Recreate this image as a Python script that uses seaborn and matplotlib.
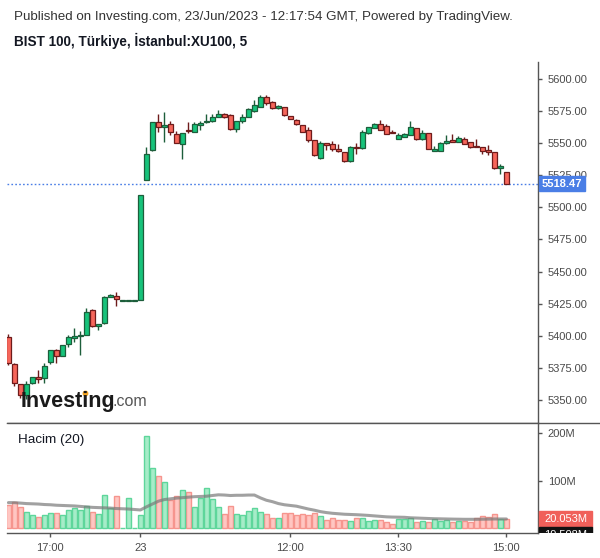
import numpy as np
import pandas as pd
import matplotlib
matplotlib.use("Agg")
import matplotlib.pyplot as plt
import matplotlib.transforms as mtransforms
from matplotlib.patches import Rectangle
from matplotlib.lines import Line2D
import matplotlib.colors as mcolors
import seaborn as sns

sns.set_theme(style="white")
plt.rcParams["font.family"] = ["Liberation Sans", "DejaVu Sans"]

# ---------------- data ----------------
session_22 = pd.date_range("2023-06-22 16:25", "2023-06-22 18:10", freq="5min")
session_23 = pd.date_range("2023-06-23 09:55", "2023-06-23 15:00", freq="5min")
times = list(session_22) + list(session_23)

opens = [5398.8, 5377.8, 5362.2, 5353.9, 5363.0, 5367.9, 5366.9, 5379.6, 5388.9, 5384.5,
         5393.4, 5398.5, 5399.6, 5400.4, 5419.9, 5407.4, 5409.7, 5430.2, 5430.8, 5427.6,
         5427.6, 5427.6,
         5428.0, 5521.0, 5544.5, 5566.3, 5562.4, 5565.0, 5557.2, 5549.1, 5560.0, 5559.0,
         5564.4, 5566.3, 5567.5, 5570.6, 5572.7, 5572.0, 5560.8, 5567.5, 5570.2, 5575.3,
         5578.4, 5585.7, 5581.8, 5577.0, 5578.0, 5571.0, 5567.8, 5564.0, 5560.0, 5552.3,
         5538.5, 5550.0, 5549.1, 5545.2, 5542.9, 5535.9, 5546.8, 5546.5, 5558.2, 5562.1,
         5565.0, 5563.4, 5558.2, 5553.5, 5555.0, 5556.6, 5561.6, 5553.5, 5557.7, 5544.2,
         5544.2, 5549.9, 5552.3, 5551.2, 5553.0, 5550.9, 5547.5, 5547.0, 5544.0, 5543.1,
         5530.9, 5527.6]
highs = [5401.4, 5378.5, 5362.5, 5364.6, 5368.0, 5373.1, 5378.6, 5389.0, 5389.5, 5393.0,
         5400.6, 5405.8, 5404.0, 5421.4, 5420.5, 5409.5, 5431.0, 5432.8, 5433.9, 5427.6,
         5427.6, 5427.6,
         5510.0, 5547.3, 5566.8, 5573.0, 5574.3, 5567.0, 5559.5, 5558.3, 5566.3, 5566.3,
         5567.5, 5572.7, 5572.7, 5575.9, 5573.5, 5573.0, 5567.2, 5572.5, 5577.4, 5583.6,
         5587.5, 5587.5, 5583.0, 5580.0, 5578.5, 5571.5, 5569.0, 5564.5, 5562.6, 5552.8,
         5551.7, 5550.5, 5551.7, 5549.1, 5543.3, 5547.9, 5550.2, 5560.0, 5562.8, 5566.0,
         5568.0, 5564.8, 5560.3, 5558.2, 5557.6, 5567.3, 5562.0, 5560.3, 5558.0, 5547.8,
         5551.0, 5556.4, 5557.2, 5555.8, 5555.0, 5551.2, 5553.3, 5547.3, 5548.6, 5543.5,
         5533.8, 5527.8]
lows = [5377.5, 5361.0, 5351.5, 5351.0, 5362.5, 5363.5, 5363.0, 5377.8, 5378.6, 5384.0,
        5391.0, 5395.4, 5385.3, 5400.4, 5407.0, 5404.3, 5409.5, 5430.0, 5423.0, 5427.6,
        5427.6, 5427.6,
        5427.6, 5521.0, 5544.0, 5559.0, 5551.2, 5556.0, 5550.0, 5537.9, 5557.7, 5558.8,
        5560.3, 5566.0, 5566.6, 5570.0, 5569.4, 5560.5, 5559.0, 5566.0, 5570.0, 5574.6,
        5578.0, 5579.8, 5576.5, 5576.5, 5571.3, 5568.5, 5564.5, 5558.5, 5551.2, 5540.3,
        5537.7, 5544.7, 5544.2, 5543.5, 5535.5, 5535.5, 5541.8, 5545.7, 5557.4, 5561.8,
        5560.2, 5557.0, 5557.6, 5553.3, 5554.8, 5556.4, 5552.8, 5552.3, 5545.4, 5544.0,
        5544.0, 5549.6, 5551.0, 5551.0, 5549.4, 5546.0, 5547.0, 5541.7, 5541.0, 5530.0,
        5526.0, 5518.3]
closes = [5378.6, 5363.0, 5353.9, 5362.2, 5367.7, 5366.1, 5376.2, 5388.7, 5384.0, 5392.6,
          5398.8, 5399.6, 5400.4, 5418.3, 5407.4, 5409.0, 5430.0, 5431.6, 5428.4, 5427.6,
          5427.6, 5427.6,
          5509.7, 5541.6, 5566.3, 5562.4, 5564.0, 5559.0, 5550.4, 5558.0, 5559.7, 5565.2,
          5566.0, 5567.0, 5570.2, 5572.7, 5570.6, 5560.8, 5567.0, 5570.2, 5576.4, 5579.8,
          5585.7, 5581.5, 5577.0, 5579.0, 5572.2, 5569.0, 5564.7, 5559.0, 5552.7, 5541.0,
          5550.2, 5548.4, 5545.7, 5543.7, 5536.4, 5546.8, 5545.9, 5558.5, 5562.6, 5565.0,
          5560.5, 5557.4, 5557.9, 5556.6, 5557.4, 5562.6, 5553.0, 5558.0, 5545.7, 5545.2,
          5550.2, 5551.7, 5551.2, 5553.8, 5549.6, 5547.3, 5547.1, 5543.7, 5543.8, 5530.9,
          5532.0, 5518.47]
volumes_m = [49.0, 55.3, 44.0, 33.5, 27.2, 23.0, 27.2, 31.4, 31.4, 27.2,
             37.8, 42.6, 37.8, 46.2, 33.5, 29.3, 69.4, 42.6, 67.3, 0.0,
             63.0, 0.0, 27.2, 194.5, 126.4, 109.5, 96.8, 58.9, 67.3, 80.0,
             75.7, 44.0, 63.0, 84.2, 61.0, 44.0, 29.3, 46.2, 29.3, 27.2,
             35.6, 42.0, 33.5, 29.3, 20.9, 20.9, 31.4, 31.4, 27.2, 29.3,
             27.2, 31.4, 25.1, 16.7, 20.9, 16.7, 16.7, 14.6, 20.9, 20.9,
             14.6, 16.7, 16.7, 12.4, 8.2, 18.8, 18.8, 20.9, 12.4, 14.6,
             12.4, 18.8, 14.6, 16.7, 12.4, 14.6, 14.6, 12.4, 20.9, 25.1,
             23.0, 29.3, 18.8, 20.053]
volume_ma_m = [54.0, 54.0, 53.0, 52.0, 51.5, 51.0, 50.0, 49.5, 48.5, 48.0,
               47.5, 47.0, 46.0, 45.0, 44.0, 43.5, 43.0, 42.5, 41.5, 41.0,
               40.5, 39.5, 38.5, 45.0, 51.0, 57.0, 60.5, 62.0, 63.5, 64.5,
               65.5, 66.5, 67.0, 67.5, 69.0, 70.5, 70.0, 69.0, 69.5, 69.5,
               70.0, 70.0, 64.0, 59.0, 56.0, 52.0, 49.5, 48.0, 46.5, 43.5,
               40.5, 38.0, 35.0, 33.0, 31.5, 30.5, 29.5, 29.0, 28.5, 27.8,
               27.0, 26.0, 25.0, 24.0, 23.5, 23.3, 23.0, 22.0, 21.5, 21.0,
               20.5, 20.0, 19.8, 19.5, 19.2, 19.0, 18.8, 18.8, 18.8, 19.0,
               19.2, 19.5, 19.5, 19.5]

price_ticks = [5350, 5375, 5400, 5425, 5450, 5475, 5500, 5525, 5550, 5575, 5600]
volume_ticks = [100, 200]
time_tick_stamps = ["2023-06-22 17:00", "2023-06-23 09:55", "2023-06-23 12:00",
                    "2023-06-23 13:30", "2023-06-23 15:00"]
time_tick_labels = ["17:00", "23", "12:00", "13:30", "15:00"]
last_price = 5518.47
last_volume_label = "20.053M"
ma_value_label = "19.508M"
header = "Published on Investing.com, 23/Jun/2023 - 12:17:54 GMT, Powered by TradingView."
title = "BIST 100, Türkiye, İstanbul:XU100, 5"

df = pd.DataFrame({"t": times, "open": opens, "high": highs, "low": lows,
                   "close": closes, "volume": volumes_m, "ma": volume_ma_m})
df["i"] = np.arange(len(df))
df["up"] = df["close"] >= df["open"]
df["dir"] = np.where(df["up"], "up", "down")
tick_pos = [df.index[df["t"] == pd.Timestamp(s)][0] for s in time_tick_stamps]

# ---------------- style ----------------
UP_FILL, UP_EDGE = "#17c37b", "#1d5e3b"
DN_FILL, DN_EDGE = "#f6665b", "#6e1b1b"
VUP_FILL, VUP_EDGE = "#a6ecc8", "#5ed69b"
VDN_FILL, VDN_EDGE = "#ffc6c2", "#f6958e"
AX_COL = "#555555"
LBL_COL = "#4a4a4a"
BLUE = "#4a7ee6"

W, H = 600, 558
fig = plt.figure(figsize=(W / 100, H / 100), dpi=100)


def fx(px):
    return px / W


def fy(py):
    return 1 - py / H


XL, XR = 7, 538
ax = fig.add_axes([fx(XL), fy(423), fx(XR) - fx(XL), fy(62) - fy(423)])
axv = fig.add_axes([fx(XL), fy(533), fx(XR) - fx(XL), fy(423) - fy(533)])

xlim = ((XL - 8.4) / 6.0, (XR - 8.4) / 6.0)

# ---- candles ----
for r in df.itertuples():
    fill, edge = (UP_FILL, UP_EDGE) if r.up else (DN_FILL, DN_EDGE)
    ax.vlines(r.i, r.low, r.high, color=edge, lw=1.0, zorder=2)
    lo, hi = min(r.open, r.close), max(r.open, r.close)
    h = hi - lo
    if h < 1.0:
        mid = (hi + lo) / 2
        lo, h = mid - 0.5, 1.0
    ax.bar(r.i, h, bottom=lo, width=0.72, color=fill, edgecolor=edge, lw=0.9, zorder=3)

ax.axhline(last_price, color=BLUE, ls=(0, (1.2, 1.6)), lw=1.0, zorder=1)
ax.set_xlim(*xlim)
ax.set_ylim(5332.1, 5613.2)
ax.set_yticks(price_ticks)
ax.set_yticklabels([f"{v:.2f}" for v in price_ticks])
ax.yaxis.tick_right()
ax.tick_params(axis="y", direction="out", length=3, width=1, color=AX_COL,
               labelsize=8, labelcolor=LBL_COL, pad=4, right=True, left=False)
ax.tick_params(axis="x", bottom=False, labelbottom=False)
for s in ["left", "top"]:
    ax.spines[s].set_visible(False)
for s in ["right", "bottom"]:
    ax.spines[s].set_color(AX_COL)
    ax.spines[s].set_linewidth(1.0)
ax.set_xlabel("")
ax.set_ylabel("")

# last price label box (covers the 5525.00 tick label, as in the original)
bt = mtransforms.blended_transform_factory(fig.transFigure, ax.transData)
ax.add_patch(Rectangle((fx(539), last_price - 5.9), fx(585) - fx(539), 11.8,
                       transform=bt, color=BLUE, clip_on=False, zorder=10))
ax.text(fx(562), last_price, f"{last_price:.2f}", transform=bt, ha="center",
        va="center", color="white", fontsize=8, fontweight="bold", zorder=11,
        clip_on=False)

# ---- volume ----
sns.barplot(data=df, x="i", y="volume", hue="dir", native_scale=True, dodge=False,
            palette={"up": VUP_FILL, "down": VDN_FILL}, width=0.92, errorbar=None,
            saturation=1, legend=False, linewidth=1.0, ax=axv)
up_rgb = mcolors.to_rgb(VUP_FILL)
for p in axv.patches:
    fc = p.get_facecolor()[:3]
    is_up = np.allclose(fc, up_rgb, atol=0.01)
    p.set_edgecolor(VUP_EDGE if is_up else VDN_EDGE)
    p.set_linewidth(1.0)
sns.lineplot(data=df, x="i", y="ma", ax=axv, color="#7a7a7a", alpha=0.7, lw=2.2,
             zorder=5)
axv.set_xlim(*xlim)
axv.set_ylim(-10.1, 222)
axv.set_yticks(volume_ticks)
axv.set_yticklabels([f"{v}M" for v in volume_ticks])
axv.yaxis.tick_right()
axv.set_xticks(tick_pos)
axv.set_xticklabels(time_tick_labels)
axv.tick_params(axis="both", direction="out", length=3, width=1, color=AX_COL,
                labelsize=8, labelcolor=LBL_COL, pad=4)
axv.tick_params(axis="y", right=True, left=False)
axv.tick_params(axis="x", bottom=True)
for s in ["left", "top"]:
    axv.spines[s].set_visible(False)
for s in ["right", "bottom"]:
    axv.spines[s].set_color(AX_COL)
    axv.spines[s].set_linewidth(1.0)
axv.set_xlabel("")
axv.set_ylabel("")

# separator between panes extended to the right edge
fig.add_artist(Line2D([fx(XL), fx(600)], [fy(423), fy(423)], color=AX_COL, lw=1.0))

# volume right-side labels (clipped at the pane bottom)
lab = fig.add_axes([fx(538), fy(533), fx(600) - fx(538), fy(423) - fy(533)])
lab.set_xlim(538, 600)
lab.set_ylim(533, 423)
lab.axis("off")
lab.add_patch(Rectangle((539, 510.7), 53, 16.6, color="#f0605a", zorder=3))
lab.text(565.5, 519, last_volume_label, ha="center", va="center", color="white",
         fontsize=8, zorder=4)
lab.add_patch(Rectangle((539, 527.3), 53, 16, color="#111111", zorder=3,
                        clip_on=True))
lab.text(565.5, 535.5, ma_value_label, ha="center", va="center", color="white",
         fontsize=8, zorder=4, clip_on=True)

# ---- texts ----
fig.text(fx(14), fy(17), header, fontsize=9.65, color="#333333", va="center")
fig.text(fx(14), fy(41), title, fontsize=9.75, color="#131722", va="center",
         fontweight="bold")
fig.text(fx(18), fy(439.5), "Hacim (20)", fontsize=9.7, color="#131722", va="center")

# Investing.com watermark
renderer = fig.canvas.get_renderer()
t_inv = fig.text(fx(20.5), fy(406.5), "Investing", fontsize=15.5, fontweight="bold",
                 color="#1a1a1a", va="baseline", zorder=20)
bb = t_inv.get_window_extent(renderer)
fig.text(bb.x1 / W - 0.004, fy(406.5), ".com", fontsize=11.5, color="#555555",
         va="baseline", zorder=20)
t_tmp = fig.text(fx(20.5), fy(406.5), "Invest", fontsize=15.5, fontweight="bold",
                 va="baseline")
bb2 = t_tmp.get_window_extent(renderer)
t_tmp.remove()
fig.add_artist(Line2D([(bb2.x1 + 2.3) / W], [fy(392.5)], marker="o", markersize=3.2,
                      color="#f5a623", lw=0))

fig.savefig("out.png", dpi=100)
